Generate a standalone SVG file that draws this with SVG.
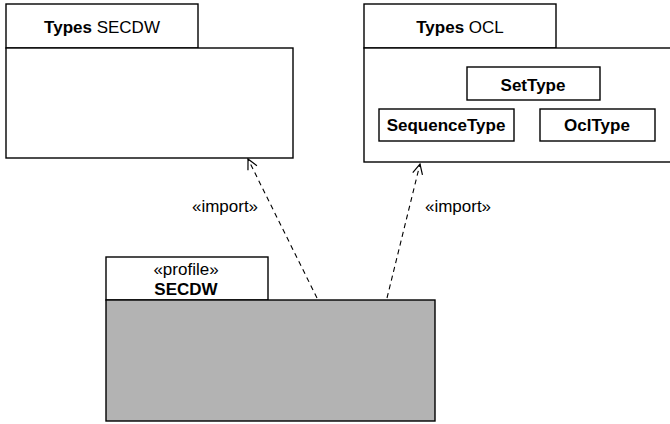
<svg xmlns="http://www.w3.org/2000/svg" width="670" height="424" viewBox="0 0 670 424">
  <defs>
    <marker id="open-arrow" viewBox="0 0 12 12" refX="11" refY="6" markerWidth="12" markerHeight="12" markerUnits="userSpaceOnUse" orient="auto">
      <path d="M1,1 L11,6 L1,11" fill="none" stroke="#000" stroke-width="1.2"/>
    </marker>
  </defs>
  <style>
    .frame { fill: #fff; stroke: #000; stroke-width: 1.4; }
    .shaded { fill: #b3b3b3; stroke: #000; stroke-width: 1.4; }
    .cls { fill: #fff; stroke: #000; stroke-width: 1.4; }
    text { font-family: "Liberation Sans", Arial, sans-serif; font-size: 17px; fill: #000; text-anchor: middle; }
    .b { font-weight: bold; }
    .dep { fill: none; stroke: #000; stroke-width: 1.1; stroke-dasharray: 5 4; marker-end: url(#open-arrow); }
  </style>
  <rect width="670" height="424" fill="#fff"/>

  <!-- package: Types SECDW -->
  <g id="types-secdw">
    <rect class="frame" x="6" y="4" width="192" height="44"/>
    <rect class="frame" x="6" y="48" width="287" height="110"/>
    <text x="102" y="33"><tspan class="b">Types</tspan> SECDW</text>
  </g>

  <!-- package: Types OCL -->
  <g id="types-ocl">
    <rect class="frame" x="364" y="4" width="192" height="44"/>
    <rect class="frame" x="364" y="48" width="310" height="114"/>
    <text x="460" y="33"><tspan class="b">Types</tspan> OCL</text>
    <g id="settype">
      <rect class="cls" x="467" y="67" width="133" height="33"/>
      <text class="b" x="533" y="91">SetType</text>
    </g>
    <g id="sequencetype">
      <rect class="cls" x="379" y="109" width="135" height="32"/>
      <text class="b" x="446" y="131">SequenceType</text>
    </g>
    <g id="ocltype">
      <rect class="cls" x="540" y="109" width="115" height="32"/>
      <text class="b" x="597" y="131">OclType</text>
    </g>
  </g>

  <!-- profile package: SECDW -->
  <g id="profile-secdw">
    <rect class="frame" x="106" y="257" width="162" height="43"/>
    <rect class="shaded" x="106" y="300" width="329" height="121"/>
    <text x="186" y="275">«profile»</text>
    <text class="b" x="186" y="295">SECDW</text>
  </g>

  <!-- import dependencies -->
  <g id="connectors">
    <path class="dep" d="M317,298 L248,159"/>
    <path class="dep" d="M387,298 L420,164"/>
    <text x="225" y="212">«import»</text>
    <text x="458" y="212">«import»</text>
  </g>
</svg>
